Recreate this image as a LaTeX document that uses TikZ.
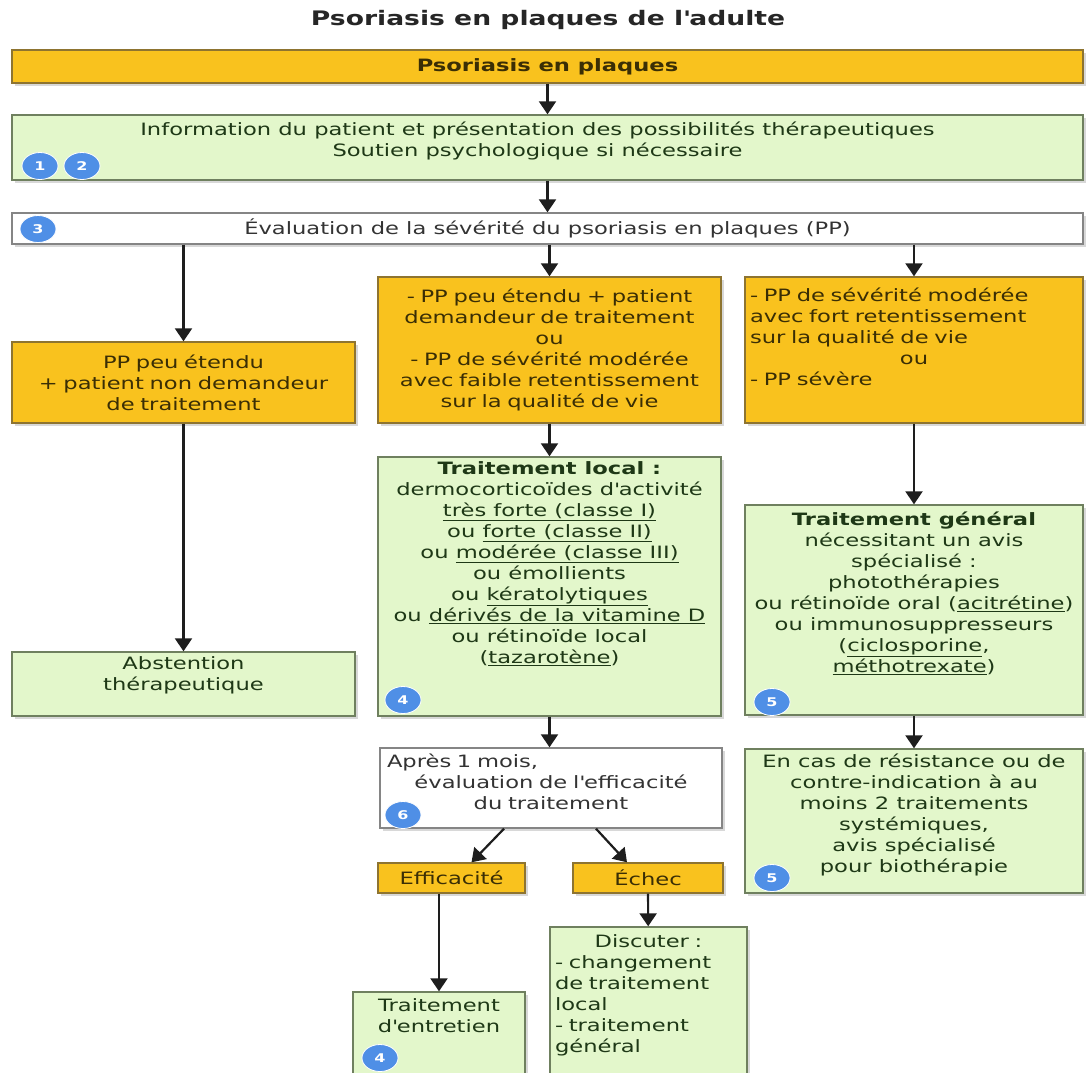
\documentclass[tikz,border=0pt]{standalone}
\usepackage{fontspec}
\setmainfont{DejaVu Sans}[FakeStretch=1.33]
\usepackage{tikz}
\usetikzlibrary{arrows.meta,positioning,shapes.geometric,shadows}

\definecolor{ppgold}{HTML}{F9C21E}
\definecolor{ppgoldline}{HTML}{8E7430}
\definecolor{ppgoldtext}{HTML}{3A2E05}
\definecolor{ppgreen}{HTML}{E3F7CB}
\definecolor{ppgreenline}{HTML}{6F805F}
\definecolor{ppgreentext}{HTML}{1E3816}
\definecolor{ppwhiteline}{HTML}{858585}
\definecolor{ppblue}{HTML}{4F8FE6}
\definecolor{pparrow}{HTML}{1E1E1E}

\newcommand{\boxfont}{\fontsize{17}{21}\selectfont}
\newcommand{\ctrline}[1]{\hskip 0pt plus 1filll #1\hskip 0pt plus 1filll\null}
\newcommand{\lftline}[1]{#1\hskip 0pt plus 1filll\null}

\tikzset{
  box/.style={draw, line width=1.4pt, inner sep=0pt,
    drop shadow={shadow xshift=3pt, shadow yshift=-3pt, opacity=0.3}},
  goldbox/.style={box, draw=ppgoldline, fill=ppgold, text=ppgoldtext},
  greenbox/.style={box, draw=ppgreenline, fill=ppgreen, text=ppgreentext},
  whitebox/.style={box, draw=ppwhiteline, fill=white, text=black!80},
  txt/.style={inner sep=0pt, font=\boxfont, align=center},
  goldtxt/.style={txt, text=ppgoldtext},
  greentxt/.style={txt, text=ppgreentext},
  badge/.style={ellipse, fill=ppblue, draw=white, line width=0.8pt, minimum width=36pt,
    minimum height=27pt, inner sep=0pt, text=white, font=\fontsize{12}{12}\selectfont\bfseries},
  arr/.style={draw=pparrow, line width=2.2pt, -{Triangle[width=17pt,length=13pt]}},
}

\begin{document}
\begin{tikzpicture}[x=1pt, y=-1pt]
\fill[white] (0,0) rectangle (1087,1072);
\useasboundingbox (0,0) rectangle (1087,1072);

\node (title) [font=\fontsize{20}{24}\selectfont\bfseries, text=black!85] at (548,20) {Psoriasis en plaques de l\textquotesingle adulte};

% -------------------------------

\node (start) [goldbox, minimum width=1071pt, minimum height=33pt, font=\boxfont\bfseries] at (547.5,66.5) {Psoriasis en plaques};

\node (info) [greenbox, minimum width=1071pt, minimum height=65pt] at (547.5,147.5) {};
\node (info-t) [greentxt, below=7pt of info.north, xshift=-10pt] {Information du patient et présentation des possibilités thérapeutiques\\Soutien psychologique si nécessaire};

\node (eval) [whitebox, minimum width=1071pt, minimum height=31pt, font=\boxfont] at (547.5,228.5) {Évaluation de la sévérité du psoriasis en plaques (PP)};

% -------------------------------

\node (mild) [goldbox, minimum width=343pt, minimum height=81pt, text width=335pt, font=\boxfont, align=center] at (183.5,382.5) {PP peu étendu\\+ patient non demandeur\\de traitement};

\node (moderate) [goldbox, minimum width=343pt, minimum height=146pt, text width=335pt, font=\boxfont, align=center] at (549.5,350) {- PP peu étendu + patient\\demandeur de traitement\\ou\\- PP de sévérité modérée\\avec faible retentissement\\sur la qualité de vie};

\node (severe) [goldbox, minimum width=338pt, minimum height=146pt] at (914,350) {};
\node (severe-t) [goldtxt, align=left, text width=328pt, below=11pt of severe.north] {- PP de sévérité modérée\\avec fort retentissement\\sur la qualité de vie\\\ctrline{ou}\\- PP sévère};

% -------------------------------

\node (abst) [greenbox, minimum width=343pt, minimum height=64pt] at (183.5,684) {};
\node (abst-t) [greentxt, below=5pt of abst.north] {Abstention\\thérapeutique};

\node (local) [greenbox, minimum width=343pt, minimum height=259pt] at (549.5,586.5) {};
\node (local-t) [greentxt, below=5pt of local.north] {\textbf{Traitement local :}\\dermocorticoïdes d\textquotesingle activité\\\underline{très forte (classe I)}\\ou \underline{forte (classe II)}\\ou \underline{modérée (classe III)}\\ou émollients\\ou \underline{kératolytiques}\\ou \underline{dérivés de la vitamine D}\\ou rétinoïde local\\(\underline{tazarotène})};

\node (general) [greenbox, minimum width=338pt, minimum height=210pt] at (914,610) {};
\node (general-t) [greentxt, below=7pt of general.north] {\textbf{Traitement général}\\nécessitant un avis\\spécialisé :\\photothérapies\\ou rétinoïde oral (\underline{acitrétine})\\ou immunosuppresseurs\\(\underline{ciclosporine},\\\underline{méthotrexate})};

% -------------------------------

\node (after) [whitebox, minimum width=342pt, minimum height=80pt] at (551,788) {};
\node (after-t) [txt, text=black!80, text width=328pt, below=6pt of after.north] {\lftline{Après 1 mois,}\\évaluation de l\textquotesingle efficacité\\du traitement};

\node (resist) [greenbox, minimum width=338pt, minimum height=144pt] at (914,821) {};
\node (resist-t) [greentxt, below=5pt of resist.north] {En cas de résistance ou de\\contre-indication à au\\moins 2 traitements\\systémiques,\\avis spécialisé\\pour biothérapie};

\node (eff) [goldbox, minimum width=147pt, minimum height=30pt, font=\boxfont] at (451.5,878) {Efficacité};
\node (fail) [goldbox, minimum width=150pt, minimum height=30pt, font=\boxfont] at (648,878) {Échec};

\node (maint) [greenbox, minimum width=172pt, minimum height=93pt] at (439,1038.5) {};
\node (maint-t) [greentxt, below=7pt of maint.north] {Traitement\\d\textquotesingle entretien};

\node (discuss) [greenbox, minimum width=197pt, minimum height=158pt] at (648.5,1006) {};
\node (discuss-t) [greentxt, align=left, text width=187pt, below=8pt of discuss.north] {\ctrline{Discuter :}\\- changement\\de traitement\\local\\- traitement\\général};

% -------------------------------

\node (b1) [badge] at (40,166) {1};
\node (b2) [badge] at (82,166) {2};
\node (b3) [badge] at (38,229) {3};
\node (b4a) [badge] at (403,700) {4};
\node (b5a) [badge] at (772,702) {5};
\node (b6) [badge] at (403,815) {6};
\node (b5b) [badge] at (772,878) {5};
\node (b4b) [badge] at (380,1058) {4};

% -------------------------------

\draw[arr] (start) -- (info);
\draw[arr] (info) -- (eval);
\draw[arr] (eval.south -| mild.north) -- (mild.north);
\draw[arr] (eval.south -| moderate.north) -- (moderate.north);
\draw[arr] (eval.south -| severe.north) -- (severe.north);
\draw[arr] (mild) -- (abst);
\draw[arr] (moderate) -- (local);
\draw[arr] (severe) -- (general);
\draw[arr] (local.south) -- (local.south |- after.north);
\draw[arr] (general) -- (resist);
\draw[arr] ([xshift=-47pt]after.south) -- ([xshift=20pt]eff.north);
\draw[arr] ([xshift=45pt]after.south) -- ([xshift=-21pt]fail.north);
\draw[arr] (eff.south -| maint.north) -- (maint.north);
\draw[arr] (fail) -- (discuss);
\end{tikzpicture}
\end{document}
